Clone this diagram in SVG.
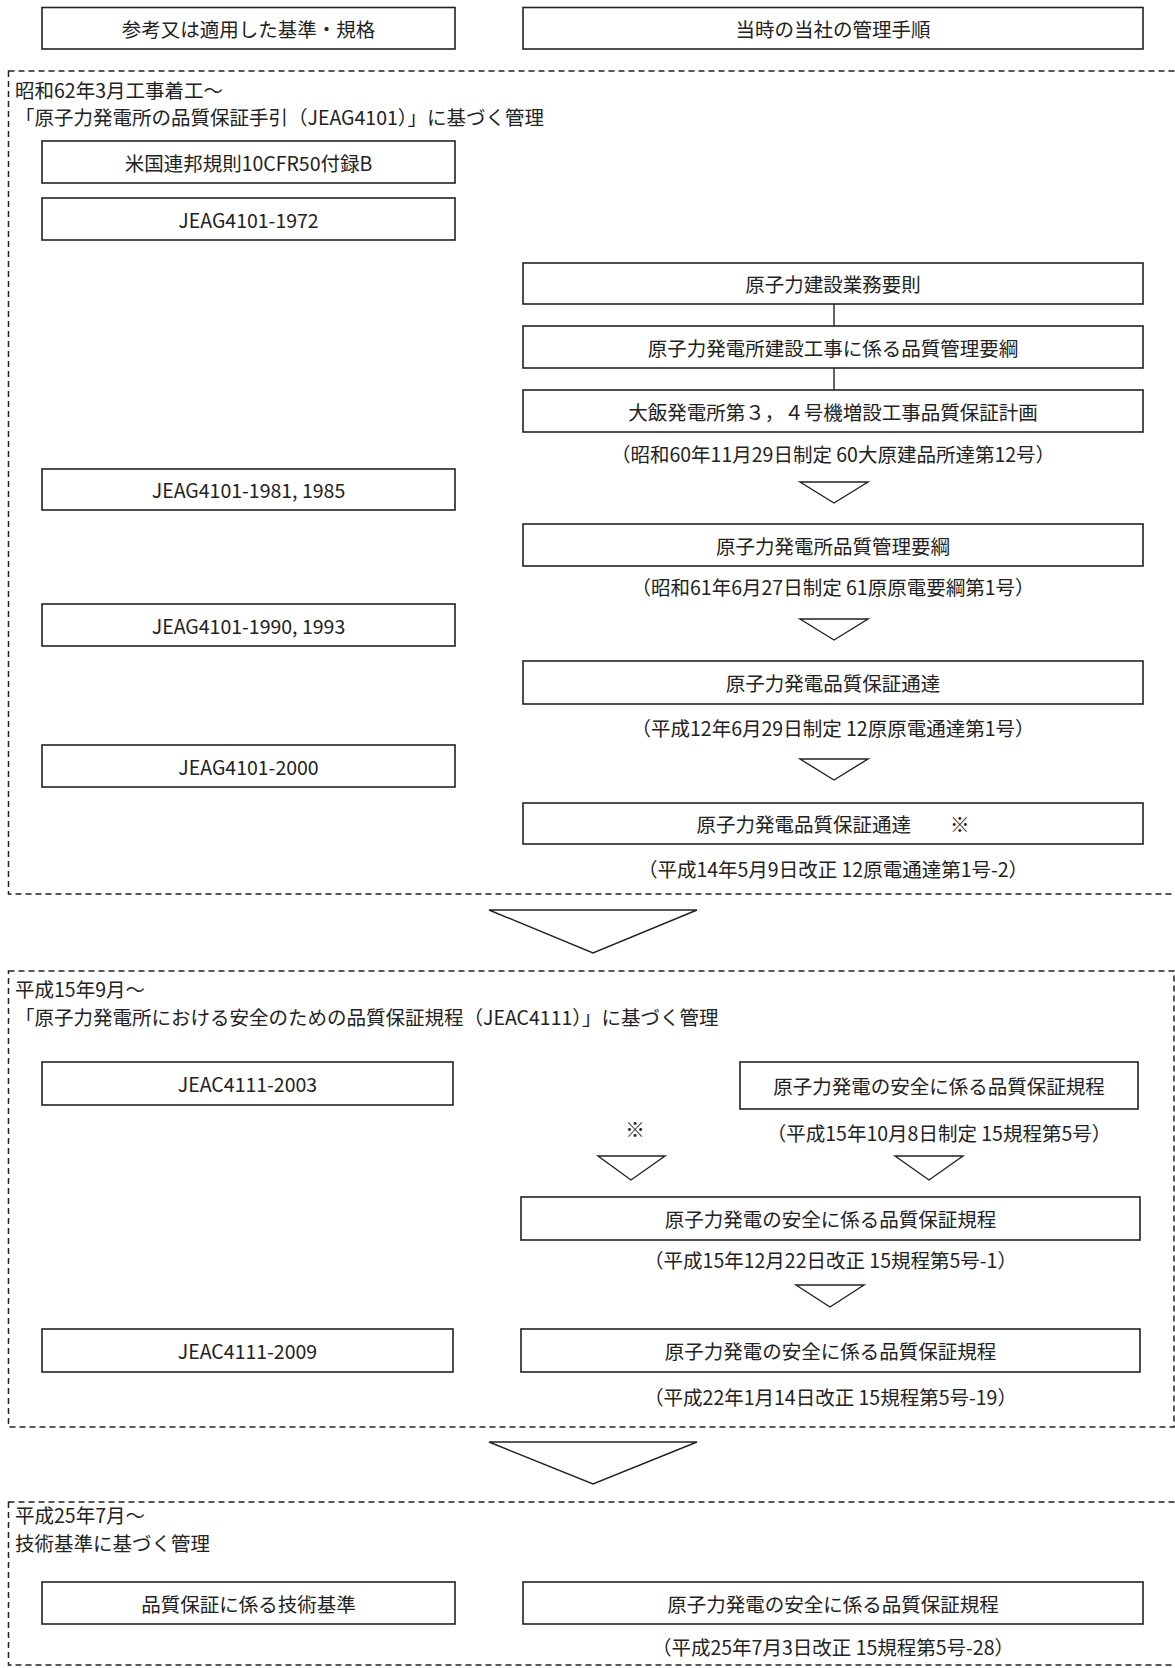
<svg xmlns="http://www.w3.org/2000/svg" width="1175" height="1668" viewBox="0 0 1175 1668">
<style>
.box{fill:#fff;stroke:#222;stroke-width:1.6}
.sec{fill:none;stroke:#222;stroke-width:1.5;stroke-dasharray:6 4}
.tri{fill:#fff;stroke:#222;stroke-width:1.4;stroke-linejoin:miter}
.ln{stroke:#222;stroke-width:1.4}
text{font-family:"Noto Sans CJK JP","Liberation Sans",sans-serif;font-size:19.5px;fill:#222}
.c{text-anchor:middle;dominant-baseline:central}
.t{dominant-baseline:central}
</style>
<rect width="1175" height="1668" fill="#fff"/>
<g id="sections">
<rect class="sec" x="8.5" y="71" width="1190" height="823"/>
<rect class="sec" x="8.5" y="971" width="1165.5" height="456"/>
<rect class="sec" x="8.5" y="1502" width="1190" height="163"/>
</g>
<g id="headers">
<g id="h-left"><rect class="box" x="42" y="7.5" width="413" height="41.5"/><text class="c" x="248.5" y="28">参考又は適用した基準・規格</text></g>
<g id="h-right"><rect class="box" x="523" y="7.5" width="620" height="41.5"/><text class="c" x="833" y="28">当時の当社の管理手順</text></g>
</g>
<g id="titles">
<text class="t" x="15" y="89">昭和62年3月工事着工～</text>
<text class="t" x="15" y="116">「原子力発電所の品質保証手引（JEAG4101）」に基づく管理</text>
<text class="t" x="15" y="988">平成15年9月～</text>
<text class="t" x="15" y="1016">「原子力発電所における安全のための品質保証規程（JEAC4111）」に基づく管理</text>
<text class="t" x="15" y="1514">平成25年7月～</text>
<text class="t" x="15" y="1542">技術基準に基づく管理</text>
</g>
<g id="connectors">
<line class="ln" x1="834" y1="304" x2="834" y2="326"/>
<line class="ln" x1="834" y1="368" x2="834" y2="390"/>
<polygon class="tri" points="800,482 868,482 834,503"/>
<polygon class="tri" points="800,619 868,619 834,640"/>
<polygon class="tri" points="800,759 868,759 834,780"/>
<polygon class="tri" points="489,910 697,910 593,953"/>
<polygon class="tri" points="598,1156 665,1156 631,1180"/>
<polygon class="tri" points="895,1156 963,1156 929,1180"/>
<polygon class="tri" points="796,1285 864,1285 830,1307"/>
<polygon class="tri" points="489,1442 697,1442 593,1484"/>
</g>
<g id="n1"><rect class="box" x="42" y="141" width="413" height="42"/><text class="c" x="248.5" y="162">米国連邦規則10CFR50付録B</text></g>
<g id="n2"><rect class="box" x="42" y="198" width="413" height="42"/><text class="c" x="248.5" y="219">JEAG4101-1972</text></g>
<g id="n3"><rect class="box" x="523" y="263" width="620" height="41"/><text class="c" x="833" y="283.5">原子力建設業務要則</text></g>
<g id="n4"><rect class="box" x="523" y="326" width="620" height="42"/><text class="c" x="833" y="347">原子力発電所建設工事に係る品質管理要綱</text></g>
<g id="n5"><rect class="box" x="523" y="390" width="620" height="42"/><text class="c" x="833" y="411">大飯発電所第３，４号機増設工事品質保証計画</text>
<text class="c" x="833" y="453">（昭和60年11月29日制定 60大原建品所達第12号）</text></g>
<g id="n6"><rect class="box" x="42" y="469" width="413" height="41"/><text class="c" x="248.5" y="489.5">JEAG4101-1981, 1985</text></g>
<g id="n7"><rect class="box" x="523" y="524" width="620" height="42"/><text class="c" x="833" y="545">原子力発電所品質管理要綱</text>
<text class="c" x="833" y="586">（昭和61年6月27日制定 61原原電要綱第1号）</text></g>
<g id="n8"><rect class="box" x="42" y="604" width="413" height="42"/><text class="c" x="248.5" y="625">JEAG4101-1990, 1993</text></g>
<g id="n9"><rect class="box" x="523" y="661" width="620" height="43"/><text class="c" x="833" y="682.5">原子力発電品質保証通達</text>
<text class="c" x="833" y="727">（平成12年6月29日制定 12原原電通達第1号）</text></g>
<g id="n10"><rect class="box" x="42" y="745" width="413" height="42"/><text class="c" x="248.5" y="766">JEAG4101-2000</text></g>
<g id="n11"><rect class="box" x="523" y="803" width="620" height="41"/><text class="c" x="833" y="823.5">原子力発電品質保証通達　　※</text>
<text class="c" x="833" y="868">（平成14年5月9日改正 12原電通達第1号-2）</text></g>
<g id="n12"><rect class="box" x="42" y="1062" width="411" height="43"/><text class="c" x="247.5" y="1083.5">JEAC4111-2003</text></g>
<g id="n13"><rect class="box" x="740" y="1062" width="398" height="47"/><text class="c" x="939" y="1085.5">原子力発電の安全に係る品質保証規程</text>
<text class="c" x="939" y="1132">（平成15年10月8日制定 15規程第5号）</text></g>
<g id="note"><text class="c" x="635" y="1128">※</text></g>
<g id="n14"><rect class="box" x="521" y="1197" width="619" height="43"/><text class="c" x="830.5" y="1218.5">原子力発電の安全に係る品質保証規程</text>
<text class="c" x="830.5" y="1259">（平成15年12月22日改正 15規程第5号-1）</text></g>
<g id="n15"><rect class="box" x="42" y="1329" width="411" height="43"/><text class="c" x="247.5" y="1350.5">JEAC4111-2009</text></g>
<g id="n16"><rect class="box" x="521" y="1329" width="619" height="43"/><text class="c" x="830.5" y="1350.5">原子力発電の安全に係る品質保証規程</text>
<text class="c" x="830.5" y="1396">（平成22年1月14日改正 15規程第5号-19）</text></g>
<g id="n17"><rect class="box" x="42" y="1582" width="413" height="42"/><text class="c" x="248.5" y="1603">品質保証に係る技術基準</text></g>
<g id="n18"><rect class="box" x="523" y="1582" width="620" height="42"/><text class="c" x="833" y="1603">原子力発電の安全に係る品質保証規程</text>
<text class="c" x="833" y="1646">（平成25年7月3日改正 15規程第5号-28）</text></g>
</svg>
